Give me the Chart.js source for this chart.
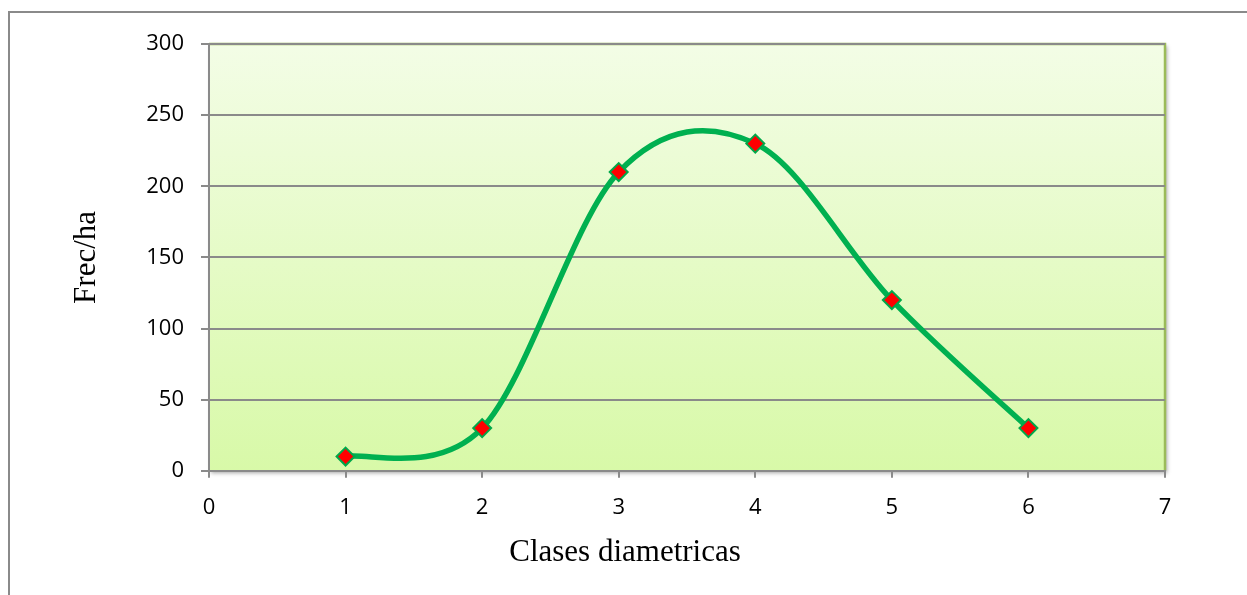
<!DOCTYPE html>
<html>
<head>
<meta charset="utf-8">
<script src="https://cdn.jsdelivr.net/npm/chart.js@4/dist/chart.umd.min.js"></script>
<style>
  html, body { margin: 0; padding: 0; background: #ffffff; }
  #wrap { position: relative; width: 1247px; height: 595px; }
  canvas { display: block; }
</style>
</head>
<body>
<div id="wrap"><canvas id="chart" width="1247" height="595"></canvas></div>
<script>
// Diameter classes and stems per hectare
const classes = [1, 2, 3, 4, 5, 6];
const freq = [10, 30, 210, 230, 120, 30];
const xTicks = [0, 1, 2, 3, 4, 5, 6, 7];
const yTicks = [0, 50, 100, 150, 200, 250, 300];

const points = classes.map((c, i) => ({ x: c, y: freq[i] }));

// Outer frame, plot-area gradient with soft shadow, green plot border
const framePlugin = {
  id: 'frame',
  beforeDraw(chart) {
    const ctx = chart.ctx;
    const a = chart.chartArea;
    ctx.save();
    ctx.strokeStyle = '#8a8a8a';
    ctx.lineWidth = 2;
    ctx.beginPath();
    ctx.moveTo(9, 600);
    ctx.lineTo(9, 12);
    ctx.lineTo(1260, 12);
    ctx.stroke();

    const g = ctx.createLinearGradient(0, a.top, 0, a.bottom);
    g.addColorStop(0, '#f3fde6');
    g.addColorStop(1, '#d8f9a8');
    ctx.shadowColor = 'rgba(0,0,0,0.35)';
    ctx.shadowBlur = 4;
    ctx.shadowOffsetX = 2;
    ctx.shadowOffsetY = 2;
    ctx.fillStyle = g;
    ctx.fillRect(a.left, a.top, a.right - a.left, a.bottom - a.top);
    ctx.shadowColor = 'transparent';
    ctx.strokeStyle = '#9bbb59';
    ctx.lineWidth = 2.5;
    ctx.beginPath();
    ctx.moveTo(a.left, a.top);
    ctx.lineTo(a.right, a.top);
    ctx.lineTo(a.right, a.bottom);
    ctx.stroke();
    ctx.restore();
  }
};

// Uniform Catmull-Rom smoothing: each point's bezier handles run parallel
// to the chord between its neighbours, one sixth of its length.
const smoothPlugin = {
  id: 'smooth',
  beforeDatasetDraw(chart, args) {
    const meta = args.meta;
    const line = meta.dataset;
    if (line && typeof line.updateControlPoints === 'function') {
      line.updateControlPoints(chart.chartArea, 'x');
    }
    const pts = meta.data;
    const n = pts.length;
    for (let i = 0; i < n; i++) {
      const p = pts[i];
      const prev = pts[Math.max(i - 1, 0)];
      const next = pts[Math.min(i + 1, n - 1)];
      const tx = (next.x - prev.x) / 6;
      const ty = (next.y - prev.y) / 6;
      p.cp1x = p.x - tx; p.cp1y = p.y - ty;
      p.cp2x = p.x + tx; p.cp2y = p.y + ty;
    }
    if (line) delete line._path;
  }
};

new Chart(document.getElementById('chart'), {
  type: 'scatter',
  data: {
    datasets: [{
      data: points,
      showLine: true,
      borderColor: '#00b050',
      borderWidth: 5.5,
      tension: 0.5,
      pointStyle: 'rectRot',
      pointRadius: 9,
      pointHoverRadius: 9,
      pointBackgroundColor: '#ff0000',
      pointBorderColor: '#00a84a',
      pointBorderWidth: 2
    }]
  },
  options: {
    responsive: false,
    animation: false,
    layout: { padding: { left: 85, right: 82, top: 44, bottom: 20 } },
    plugins: {
      legend: { display: false },
      tooltip: { enabled: false },
      title: {
        display: true, position: 'bottom', text: 'Clases diametricas', color: '#000',
        font: { family: 'Liberation Serif', size: 31, weight: 'normal' },
        padding: { top: 0, bottom: 4 }
      }
    },
    scales: {
      x: {
        type: 'linear',
        min: 0, max: 7,
        afterBuildTicks: s => { s.ticks = xTicks.map(v => ({ value: v })); },
        afterFit: s => { s.height = 63; },
        grid: { drawOnChartArea: false, drawTicks: true, tickLength: 7, color: '#8a8a8a', lineWidth: 2 },
        border: { color: '#8a8a8a', width: 2 },
        ticks: { color: '#000', font: { family: 'Open Sans', size: 22 }, padding: 17 }
      },
      y: {
        min: 0, max: 300,
        afterBuildTicks: s => { s.ticks = yTicks.map(v => ({ value: v })); },
        afterFit: s => { s.width = 209 - 85; },
        grid: { color: '#8a8a8a', lineWidth: 2, tickLength: 8 },
        border: { color: '#8a8a8a', width: 2 },
        ticks: { color: '#000', font: { family: 'Open Sans', size: 22 }, padding: 17 },
        title: { display: true, text: 'Frec/ha', color: '#000',
                 font: { family: 'Liberation Serif', size: 31 }, padding: { top: -17, bottom: 4 } }
      }
    }
  },
  plugins: [framePlugin, smoothPlugin]
});
</script>
</body>
</html>
